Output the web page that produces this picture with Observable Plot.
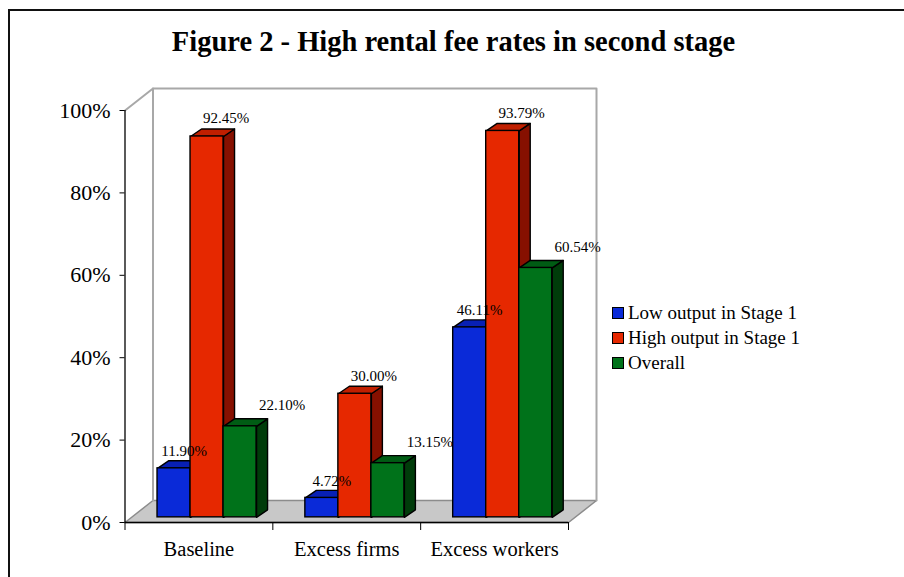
<!DOCTYPE html>
<html><head><meta charset="utf-8">
<script src="https://cdn.jsdelivr.net/npm/d3@7"></script>
<script src="https://cdn.jsdelivr.net/npm/@observablehq/plot@0.6"></script>
<style>
body{margin:0;background:#fff;}
#wrap{position:relative;width:904px;height:577px;overflow:hidden;font-family:"Liberation Serif","Times New Roman",serif;color:#000;}
#chart{position:absolute;left:0;top:0;}
#chart svg, #chart svg text{font-family:"Liberation Serif","Times New Roman",serif !important;}
#frame{position:absolute;left:8px;top:9px;right:-10px;bottom:-10px;border-top:2px solid #111;border-left:2px solid #111;pointer-events:none;}
#title{position:absolute;left:0;width:907px;top:27.8px;text-align:center;font-weight:bold;font-size:28.5px;line-height:28.5px;white-space:nowrap;}
#legend{position:absolute;left:612px;top:300.5px;font-size:19px;}
.row{display:flex;align-items:center;height:25px;white-space:nowrap;}
.sw{width:10px;height:10px;border:1px solid #000;margin-right:4px;flex:none;}
</style>
</head>
<body>
<div id="wrap">
  <div id="chart"></div>
  <div id="frame"></div>
  <div id="title">Figure 2 - High rental fee rates in second stage</div>
  <div id="legend"></div>
</div>
<script>
// ---- data ----
const categories = ["Baseline", "Excess firms", "Excess workers"];
const seriesNames = ["Low output in Stage 1", "High output in Stage 1", "Overall"];
const lowOutput = [11.90, 4.72, 46.11];
const highOutput = [92.45, 30.00, 93.79];
const overall = [22.10, 13.15, 60.54];
const yTicks = [0, 20, 40, 60, 80, 100];

// ---- styles ----
const FONT = "'Liberation Serif','Times New Roman',serif";
const frontColors = ["#0a2ad8", "#e62800", "#00721a"];
const topColors   = ["#0820b4", "#c01f00", "#005c14"];
const sideColors  = ["#061a80", "#861000", "#003c0a"];
const labelDx = [10, 19, 42];
const labelDy = [-17, -18, -21];

// ---- pseudo-3D projection (in data units) ----
const N = categories.length;
const GROUP_OFF = 0.22, BAR_W = 0.2233, DX = 0.0744, DY = 1.82, BASE = 1.25;
const WX = 0.1894, WY = 5.34;

const seriesValues = [lowOutput, highOutput, overall];
const bars = [];
seriesValues.forEach((vals, j) => vals.forEach((v, i) => {
  const x1 = i + GROUP_OFF + j * BAR_W, x2 = x1 + BAR_W;
  bars.push({series: j, cat: i, value: v, x1, x2, y1: BASE, y2: BASE + v});
}));

function topFace(b) {
  return [[b.x1, b.y2], [b.x2, b.y2], [b.x2 + DX, b.y2 + DY], [b.x1 + DX, b.y2 + DY], [b.x1, b.y2]]
    .map(([x, y]) => ({id: `t${b.series}-${b.cat}`, x, y}));
}
function sideFace(b) {
  return [[b.x2, b.y1], [b.x2 + DX, b.y1 + DY], [b.x2 + DX, b.y2 + DY], [b.x2, b.y2], [b.x2, b.y1]]
    .map(([x, y]) => ({id: `s${b.series}-${b.cat}`, x, y}));
}

const floor = [[0, 0], [N, 0], [N + WX, WY], [WX, WY], [0, 0]].map(([x, y]) => ({x, y}));
const wall = [[WX, WY], [WX, 100 + WY], [N + WX, 100 + WY], [N + WX, WY]].map(([x, y]) => ({x, y}));
const diag = [[0, 100], [WX, 100 + WY]].map(([x, y]) => ({x, y}));

const marks = [
  Plot.line(floor, {x: "x", y: "y", fill: "#c8c8c8", stroke: "#8c8c8c", strokeWidth: 1.5}),
  Plot.line(wall, {x: "x", y: "y", stroke: "#a8a8a8", strokeWidth: 2}),
  Plot.line(diag, {x: "x", y: "y", stroke: "#a8a8a8", strokeWidth: 2}),
];
for (let j = 0; j < 3; j++) {
  const bs = bars.filter(b => b.series === j);
  marks.push(
    Plot.line(bs.flatMap(sideFace), {x: "x", y: "y", z: "id", fill: sideColors[j], stroke: "#000", strokeWidth: 1.4, strokeLinejoin: "round"}),
    Plot.line(bs.flatMap(topFace), {x: "x", y: "y", z: "id", fill: topColors[j], stroke: "#000", strokeWidth: 1.4, strokeLinejoin: "round"}),
    Plot.rect(bs, {x1: "x1", x2: "x2", y1: "y1", y2: "y2", fill: frontColors[j], stroke: "#000", strokeWidth: 1.4})
  );
}
for (let j = 0; j < 3; j++) {
  const bs = bars.filter(b => b.series === j);
  marks.push(Plot.text(bs, {x: b => (b.x1 + b.x2) / 2, y: "y2", text: b => b.value.toFixed(2) + "%",
    dx: labelDx[j], dy: labelDy[j], fontSize: 15, fontFamily: FONT, fill: "#000"}));
}
marks.push(
  Plot.ruleX([0], {y1: 0, y2: 100, stroke: "#000", strokeWidth: 1.3}),
  Plot.ruleY([0], {x1: 0, x2: N, stroke: "#000", strokeWidth: 1.3}),
  Plot.axisY({ticks: yTicks, tickFormat: d => d + "%", tickSize: 5, tickPadding: 9.5, fontSize: 22, fontFamily: FONT, stroke: "#000"}),
  Plot.axisX({ticks: d3.range(N + 1), tickFormat: () => "", tickSize: 8, stroke: "#000"}),
  Plot.axisX({ticks: d3.range(N).map(i => i + 0.5), tickFormat: d => categories[Math.floor(d)], tickSize: 0, tickPadding: 19, fontSize: 20.5, fontFamily: FONT})
);

const chart = Plot.plot({
  width: 904, height: 577,
  marginLeft: 124.5, marginRight: 336, marginTop: 110, marginBottom: 55,
  x: {type: "linear", domain: [0, N]},
  y: {type: "linear", domain: [0, 100]},
  style: {fontFamily: FONT, background: "transparent", color: "#000"},
  marks
});
document.getElementById("chart").appendChild(chart);

const legend = document.getElementById("legend");
seriesNames.forEach((name, j) => {
  const row = document.createElement("div");
  row.className = "row";
  const sw = document.createElement("div");
  sw.className = "sw";
  sw.style.background = frontColors[j];
  const t = document.createElement("span");
  t.textContent = name;
  row.appendChild(sw); row.appendChild(t);
  legend.appendChild(row);
});
</script>
</body></html>
